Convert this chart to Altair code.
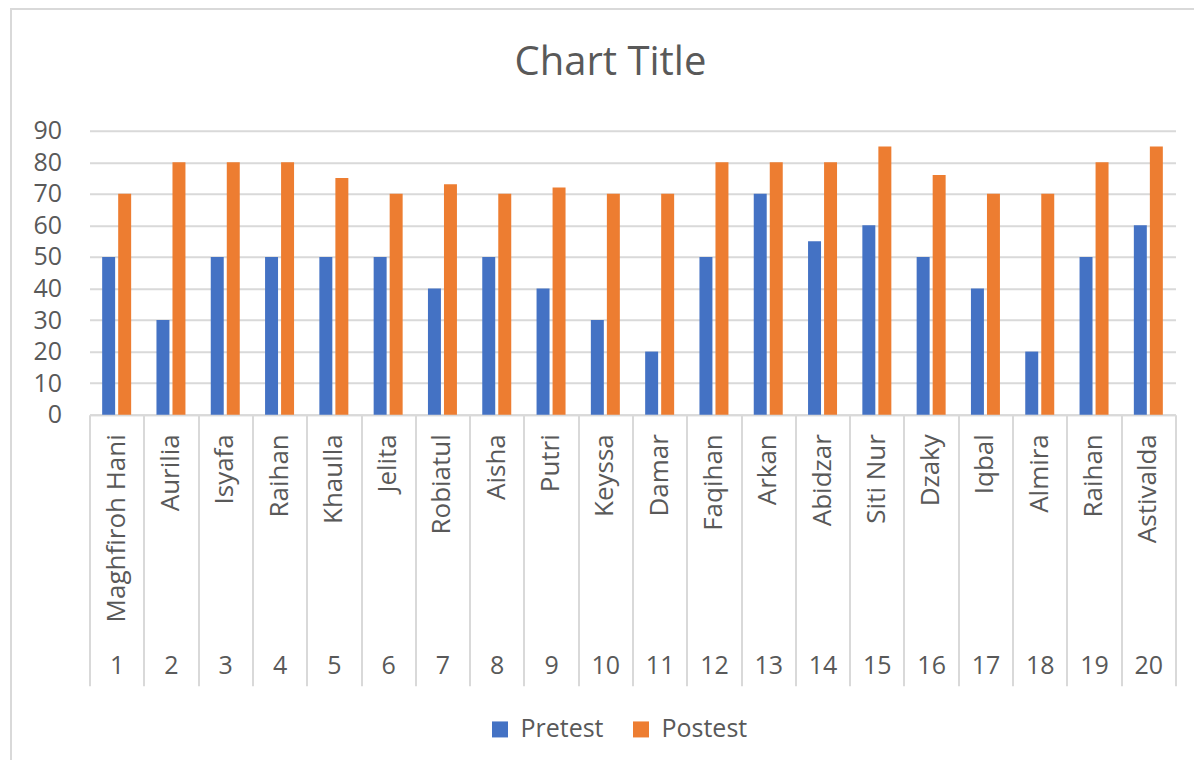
import json
import altair as alt
import pandas as pd

names = ["Maghfiroh Hani", "Aurilia", "Isyafa", "Raihan", "Khaulla", "Jelita",
         "Robiatul", "Aisha", "Putri", "Keyssa", "Damar", "Faqihan", "Arkan",
         "Abidzar", "Siti Nur", "Dzaky", "Iqbal", "Almira", "Raihan", "Astivalda"]
numbers = list(range(1, 21))
pretest = [50, 30, 50, 50, 50, 50, 40, 50, 40, 30, 20, 50, 70, 55, 60, 50, 40, 20, 50, 60]
postest = [70, 80, 80, 80, 75, 70, 73, 70, 72, 70, 70, 80, 80, 80, 85, 76, 70, 70, 80, 85]
series = ["Pretest", "Postest"]
colors = ["#4472C4", "#ED7D31"]
y_ticks = list(range(0, 100, 10))
chart_title = "Chart Title"

rows = []
for i, n in enumerate(numbers):
    rows.append({"idx": n, "name": names[i], "series": "Pretest", "value": pretest[i]})
    rows.append({"idx": n, "name": names[i], "series": "Postest", "value": postest[i]})
df = pd.DataFrame(rows)

FONT = "Open Sans"
TXT = "#595959"
GRID = "#D9D9D9"
W, H = 1086, 284

name_expr = json.dumps(names) + "[datum.value - 1]"

x_scale = alt.Scale(paddingInner=0, paddingOuter=0)
y_scale = alt.Scale(domain=[0, 90], nice=False)
y_axis = alt.Axis(values=y_ticks, domain=False, ticks=False, labelPadding=28,
                  labelFontSize=25, labelFont=FONT, labelColor=TXT,
                  labelOverlap=False, gridColor=GRID, gridWidth=2)

bars = alt.Chart(df).mark_bar().encode(
    x=alt.X("idx:O", scale=x_scale, title=None,
            axis=alt.Axis(orient="bottom", labelExpr=name_expr, labelAngle=270,
                          labelPadding=19, labelLimit=0, labelOverlap=False,
                          labelFontSize=26, labelFont=FONT, labelColor=TXT,
                          ticks=False, domain=True, domainColor=GRID, domainWidth=2,
                          grid=False)),
    xOffset=alt.XOffset("series:N", sort=series,
                        scale=alt.Scale(paddingInner=0.19, paddingOuter=0.79)),
    y=alt.Y("value:Q", scale=y_scale, title=None, axis=y_axis),
    color=alt.Color("series:N", sort=series,
                    scale=alt.Scale(domain=series, range=colors),
                    legend=alt.Legend(title=None, orient="none", legendX=398, legendY=586,
                                      direction="horizontal", symbolType="square",
                                      symbolSize=256, symbolStrokeWidth=0,
                                      labelFontSize=25, labelFont=FONT, labelColor=TXT,
                                      labelOffset=8, columnPadding=24, padding=0)),
)

num_axis = alt.Chart(df).mark_tick(opacity=0).encode(
    x=alt.X("idx:O", scale=x_scale, title=None,
            axis=alt.Axis(orient="bottom", tickBand="extent", tickSize=271,
                          tickColor=GRID, tickWidth=2, domain=False, grid=False,
                          labelAngle=0, labelPadding=-20, labelBaseline="middle",
                          labelFontSize=25, labelFont=FONT, labelColor=TXT,
                          labelOverlap=False)),
    y=alt.Y("value:Q", scale=y_scale, title=None, axis=y_axis),
)

deco_df = pd.DataFrame({"title": [chart_title]})
frame = alt.Chart(deco_df).mark_rect(fill=None, stroke=GRID, strokeWidth=2).encode(
    x=alt.value(-78.5), x2=alt.value(W + 400),
    y=alt.value(-121.7), y2=alt.value(H + 420),
)
title = alt.Chart(deco_df).mark_text(font=FONT, fontSize=40, color=TXT,
                                     align="center", baseline="alphabetic").encode(
    text="title:N", x=alt.value(521), y=alt.value(-55.7),
)

chart = alt.layer(frame, title, bars, num_axis).resolve_axis(x="independent").properties(
    width=W, height=H,
    autosize=alt.AutoSizeParams(type="none"),
    padding={"left": 81.5, "top": 122.7, "right": 18, "bottom": 345},
).configure_view(stroke=None)

chart.save("out.html", embed_options={"renderer": "svg", "actions": False})
